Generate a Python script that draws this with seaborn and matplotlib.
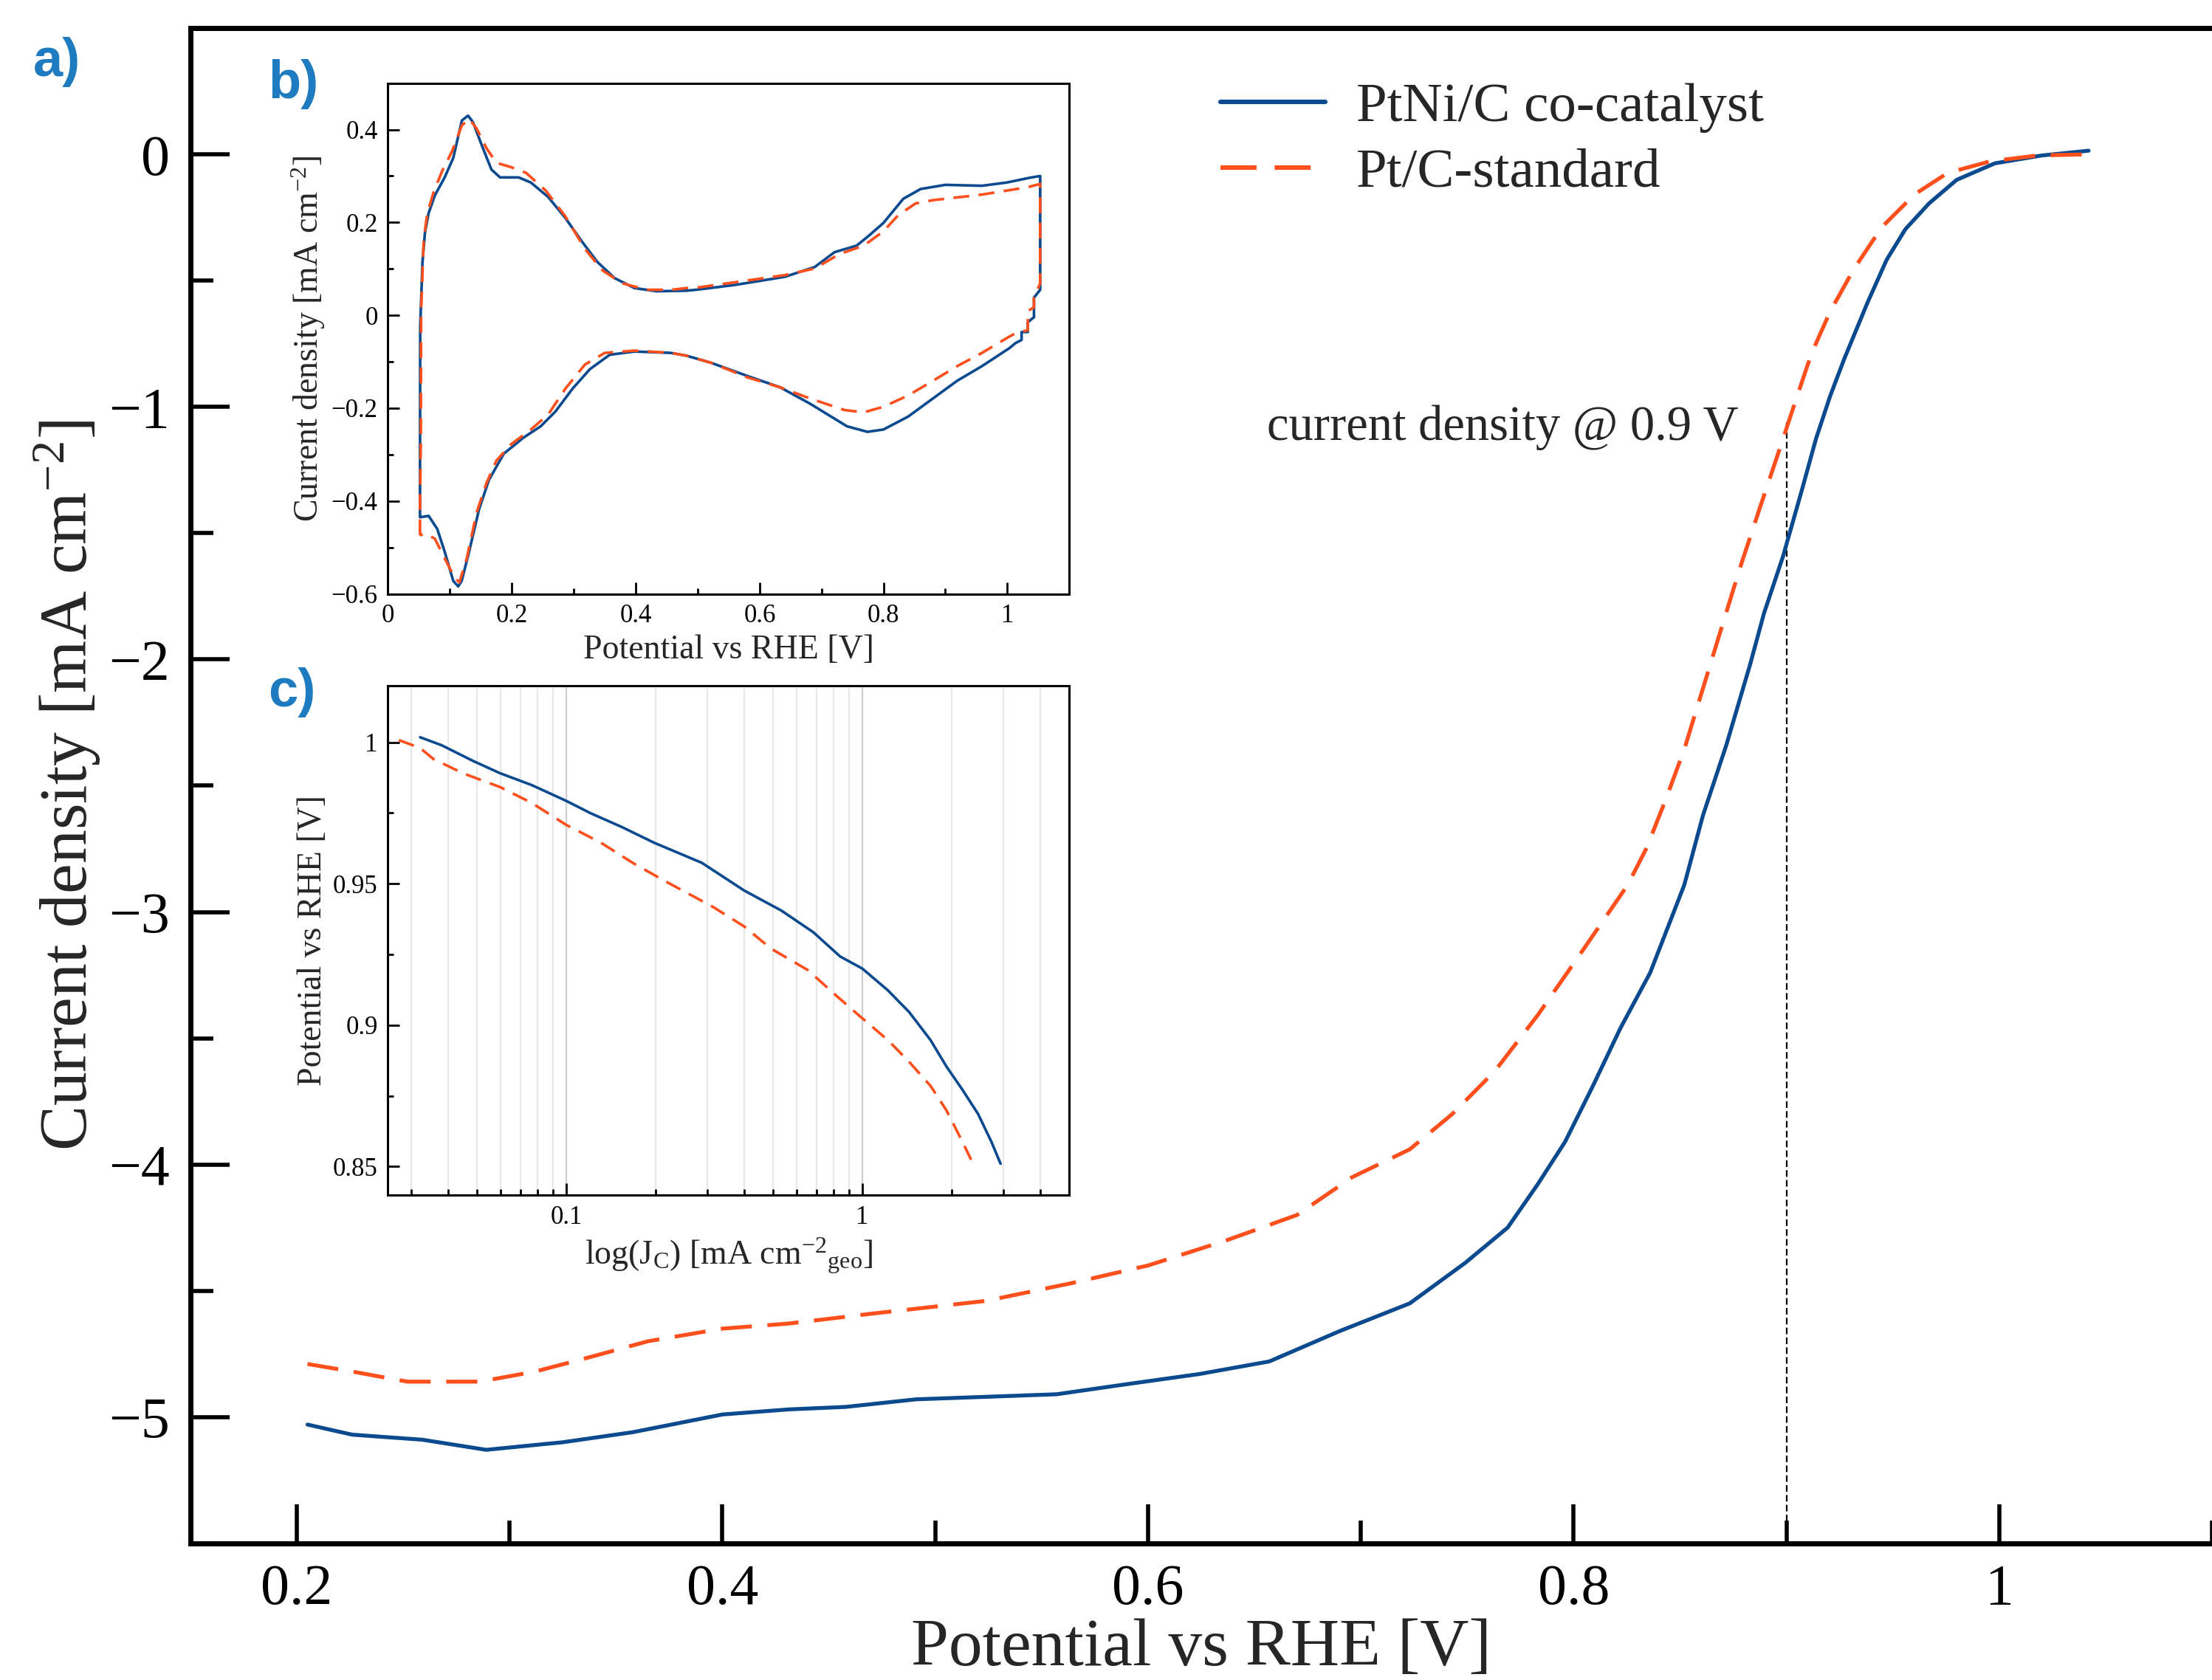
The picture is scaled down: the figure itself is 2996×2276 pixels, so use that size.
import numpy as np
import pandas as pd
import matplotlib
matplotlib.use("Agg")
import matplotlib.pyplot as plt
import seaborn as sns
from matplotlib.ticker import MultipleLocator, FuncFormatter, NullFormatter, LogLocator

# ---------------- data ----------------
series_names = ["PtNi/C co-catalyst", "Pt/C-standard"]

# main LSV (a)
lsv_E_ptni = [0.205, 0.226, 0.259, 0.289, 0.325, 0.358, 0.4, 0.431, 0.458, 0.491, 0.524, 0.557,
              0.59, 0.624, 0.657, 0.69, 0.723, 0.749, 0.769, 0.783, 0.796, 0.809, 0.822, 0.836,
              0.852, 0.8608, 0.8718, 0.8829, 0.8895, 0.8984, 0.9072, 0.9139, 0.9205, 0.9272,
              0.9382, 0.9471, 0.9559, 0.967, 0.980, 0.998, 1.020, 1.042]
lsv_j_ptni = [-5.03, -5.07, -5.09, -5.13, -5.10, -5.06, -4.99, -4.97, -4.96, -4.93, -4.92, -4.91,
              -4.87, -4.83, -4.78, -4.66, -4.55, -4.39, -4.25, -4.08, -3.91, -3.69, -3.46, -3.24,
              -2.893, -2.617, -2.338, -2.021, -1.816, -1.592, -1.331, -1.126, -0.958, -0.809,
              -0.585, -0.417, -0.296, -0.194, -0.1005, -0.035, -0.004, 0.015]
lsv_E_pt = [0.205, 0.226, 0.252, 0.286, 0.312, 0.339, 0.365, 0.4, 0.431, 0.471, 0.524, 0.564,
            0.6, 0.637, 0.67, 0.696, 0.723, 0.743, 0.763, 0.783, 0.802,
            0.8254, 0.8342, 0.843, 0.852, 0.8608, 0.8696, 0.8785, 0.8873, 0.8962, 0.9028,
            0.9117, 0.9205, 0.9316, 0.9449, 0.9604, 0.9758, 0.9958, 1.018, 1.044]
lsv_j_pt = [-4.79, -4.82, -4.86, -4.86, -4.82, -4.76, -4.70, -4.65, -4.63, -4.59, -4.54, -4.47,
            -4.40, -4.30, -4.20, -4.05, -3.94, -3.80, -3.63, -3.41, -3.18,
            -2.893, -2.748, -2.561, -2.356, -2.114, -1.872, -1.629, -1.405, -1.182, -1.014,
            -0.790, -0.623, -0.455, -0.287, -0.157, -0.073, -0.027, -0.004, 0.001]

# CV inset (b): anodic sweep followed by cathodic sweep
cv_E_ptni = [0.0517, 0.0517, 0.052, 0.0557, 0.0597, 0.0656, 0.0756, 0.0915, 0.1054, 0.1193,
             0.1293, 0.1372, 0.1512, 0.167, 0.181, 0.211, 0.2307, 0.2585, 0.2864, 0.3142,
             0.338, 0.366, 0.3978, 0.4336, 0.482, 0.501, 0.5617, 0.641, 0.689, 0.721,
             0.7566, 0.776, 0.800, 0.832, 0.860, 0.900, 0.959, 0.999, 1.039, 1.053,
             1.053, 1.043, 1.043, 1.033, 1.033, 1.023, 1.023, 1.013, 1.003, 0.959,
             0.919, 0.880, 0.840, 0.800, 0.774, 0.741, 0.681, 0.633, 0.581, 0.521,
             0.482, 0.457, 0.398, 0.358, 0.326, 0.298, 0.2705, 0.2466, 0.2188, 0.187,
             0.163, 0.147, 0.131, 0.119, 0.1134, 0.1054, 0.0915, 0.0795, 0.0656, 0.0517]
cv_j_ptni = [-0.432, -0.368, -0.025, 0.115, 0.178, 0.220, 0.258, 0.297, 0.339, 0.4195,
             0.430, 0.416, 0.367, 0.314, 0.297, 0.297, 0.286, 0.255, 0.2095, 0.157,
             0.115, 0.080, 0.0587, 0.0518, 0.053, 0.0555, 0.0657, 0.083, 0.104, 0.136,
             0.150, 0.171, 0.199, 0.251, 0.272, 0.281, 0.279, 0.286, 0.297, 0.300,
             0.055, 0.038, -0.004, -0.015, -0.036, -0.036, -0.053, -0.060, -0.071, -0.1095,
             -0.141, -0.179, -0.218, -0.246, -0.251, -0.239, -0.190, -0.155, -0.131, -0.102,
             -0.087, -0.081, -0.078, -0.085, -0.116, -0.158, -0.207, -0.239, -0.2635, -0.298,
             -0.3545, -0.418, -0.509, -0.572, -0.584, -0.572, -0.509, -0.460, -0.432, -0.435]
cv_E_pt = [0.0517, 0.0517, 0.053, 0.0535, 0.0577, 0.0636, 0.0736, 0.0875, 0.1034, 0.1193,
           0.1313, 0.1432, 0.159, 0.175, 0.199, 0.2228, 0.2545, 0.2864, 0.318, 0.346,
           0.378, 0.418, 0.457, 0.482, 0.501, 0.5617, 0.641, 0.689, 0.729, 0.768,
           0.800, 0.824, 0.852, 0.880, 0.959, 1.033, 1.053,
           1.053, 1.043, 1.043, 1.033, 1.033, 1.013, 1.003, 0.959, 0.919, 0.880,
           0.840, 0.800, 0.768, 0.737, 0.681, 0.633, 0.581, 0.521, 0.482, 0.457,
           0.398, 0.350, 0.318, 0.2864, 0.2585, 0.2307, 0.199, 0.175, 0.159, 0.1432,
           0.1273, 0.1154, 0.1074, 0.0915, 0.0756, 0.0597, 0.0517]
cv_j_pt = [-0.474, -0.411, -0.270, 0.0097, 0.164, 0.220, 0.265, 0.311, 0.353, 0.409,
           0.423, 0.402, 0.360, 0.3285, 0.319, 0.307, 0.269, 0.213, 0.143, 0.097,
           0.069, 0.055, 0.055, 0.0587, 0.060, 0.0714, 0.0867, 0.1008, 0.132, 0.150,
           0.181, 0.216, 0.241, 0.248, 0.260, 0.276, 0.283,
           0.069, 0.038, 0.017, 0.0095, -0.032, -0.039, -0.046, -0.081, -0.1095, -0.141,
           -0.1725, -0.197, -0.209, -0.204, -0.179, -0.155, -0.134, -0.102, -0.087, -0.081,
           -0.076, -0.081, -0.106, -0.158, -0.214, -0.246, -0.2775, -0.313, -0.3615, -0.4245,
           -0.523, -0.575, -0.565, -0.523, -0.481, -0.470, -0.474]

# Tafel inset (c)
tafel_J_ptni = [0.0321, 0.0379, 0.0485, 0.0597, 0.0764, 0.1, 0.1205, 0.1545, 0.198, 0.287, 0.399,
                0.533, 0.684, 0.841, 1.0, 1.22, 1.44, 1.70, 1.92, 2.18, 2.46, 2.73, 2.93]
tafel_E_ptni = [1.0018, 0.999, 0.9934, 0.9891, 0.9849, 0.9793, 0.975, 0.970, 0.9645, 0.9574,
                0.9476, 0.9405, 0.9328, 0.9243, 0.920, 0.9123, 0.9046, 0.8947, 0.8855, 0.8771,
                0.8686, 0.8587, 0.851]
tafel_J_pt = [0.0272, 0.0321, 0.0356, 0.0447, 0.0597, 0.0764, 0.1, 0.131, 0.1676, 0.215, 0.312,
              0.399, 0.491, 0.656, 0.807, 1.0, 1.22, 1.44, 1.70, 1.92, 2.18, 2.33]
tafel_E_pt = [1.0008, 0.998, 0.9941, 0.9891, 0.9842, 0.9786, 0.9708, 0.9645, 0.9574, 0.951,
              0.9419, 0.9349, 0.9271, 0.9194, 0.9109, 0.9024, 0.8947, 0.887, 0.8785, 0.870,
              0.8587, 0.8524]

annot_text = "current density @ 0.9 V"
vline_E = 0.9
vline_top = -1.06

# ---------------- style ----------------
BLUE = "#0b4a8e"
ORANGE = "#ff4f1c"
LABEL_BLUE = "#1f7bbf"

sns.set_theme(style="ticks")
plt.rcParams["font.family"] = ["Liberation Serif", "DejaVu Serif"]
plt.rcParams["mathtext.fontset"] = "custom"
plt.rcParams["mathtext.rm"] = "Liberation Serif"
plt.rcParams["mathtext.it"] = "Liberation Serif:italic"
plt.rcParams["mathtext.bf"] = "Liberation Serif:bold"
plt.rcParams["axes.unicode_minus"] = True


def gfmt(v, pos):
    s = "%g" % v
    return s.replace("-", "\u2212")


fig = plt.figure(figsize=(14.98, 11.38), dpi=200)
fig.patch.set_facecolor("white")

# ---------------- main axes ----------------
ax = fig.add_axes([0.0861, 0.0814, 1 - 0.0861, 0.9018])
df_a1 = pd.DataFrame({"E": lsv_E_ptni, "j": lsv_j_ptni})
df_a2 = pd.DataFrame({"E": lsv_E_pt, "j": lsv_j_pt})
sns.lineplot(data=df_a1, x="E", y="j", ax=ax, color=BLUE, lw=1.9, sort=False,
             estimator=None, label=series_names[0])
sns.lineplot(data=df_a2, x="E", y="j", ax=ax, color=ORANGE, lw=1.9, sort=False,
             estimator=None, label=series_names[1], linestyle=(0, (8, 4)))
ax.plot([vline_E, vline_E], [vline_top, -5.5], color="black", lw=0.8,
        linestyle=(0, (4, 2)), zorder=1)
ax.text(0.8774, -1.13, annot_text, ha="right", va="baseline", fontsize=24)

ax.set_xlim(0.15, 1.1)
ax.set_ylim(-5.5, 0.5)
ax.xaxis.set_major_locator(MultipleLocator(0.2))
ax.xaxis.set_minor_locator(MultipleLocator(0.1))
ax.yaxis.set_major_locator(MultipleLocator(1))
ax.yaxis.set_minor_locator(MultipleLocator(0.5))
ax.xaxis.set_major_formatter(FuncFormatter(gfmt))
ax.yaxis.set_major_formatter(FuncFormatter(gfmt))
ax.tick_params(which="both", direction="in", top=False, right=False, colors="black")
ax.tick_params(which="major", length=19, width=2.0, labelsize=28, pad=10)
ax.tick_params(which="minor", length=11, width=2.0)
for s in ["left", "bottom", "top"]:
    ax.spines[s].set_linewidth(2.5)
    ax.spines[s].set_color("black")
ax.spines["right"].set_visible(False)
ax.set_xlabel("Potential vs RHE [V]", fontsize=33, labelpad=1)
ax.set_ylabel(r"Current density [mA cm$^{-2}$]", fontsize=33, labelpad=3)

leg = ax.legend(loc="upper left", bbox_to_anchor=(0.5517, 0.951),
                bbox_transform=fig.transFigure, frameon=False, fontsize=27,
                handlelength=1.9, handletextpad=0.55, labelspacing=0.27,
                borderpad=0, borderaxespad=0)
for line in leg.get_lines():
    line.set_linewidth(2.2)

# ---------------- inset b ----------------
axb = fig.add_axes([0.1754, 0.6465, 0.308, 0.304])
axb.set_facecolor("white")
df_b1 = pd.DataFrame({"E": cv_E_ptni, "j": cv_j_ptni})
df_b2 = pd.DataFrame({"E": cv_E_pt, "j": cv_j_pt})
sns.lineplot(data=df_b1, x="E", y="j", ax=axb, color=BLUE, lw=1.3, sort=False, estimator=None)
sns.lineplot(data=df_b2, x="E", y="j", ax=axb, color=ORANGE, lw=1.3, sort=False,
             estimator=None, linestyle=(0, (6, 3.5)))
axb.set_xlim(0, 1.1)
axb.set_ylim(-0.6, 0.5)
axb.xaxis.set_major_locator(MultipleLocator(0.2))
axb.xaxis.set_minor_locator(MultipleLocator(0.1))
axb.yaxis.set_major_locator(MultipleLocator(0.2))
axb.yaxis.set_minor_locator(MultipleLocator(0.1))
axb.xaxis.set_major_formatter(FuncFormatter(gfmt))
axb.yaxis.set_major_formatter(FuncFormatter(gfmt))
axb.tick_params(which="both", direction="in", top=False, right=False, colors="black")
axb.tick_params(which="major", length=5.8, width=1.0, labelsize=12.5, pad=5)
axb.tick_params(which="minor", length=3, width=1.0)
for s in axb.spines.values():
    s.set_linewidth(1.1)
    s.set_color("black")
axb.set_xlabel("Potential vs RHE [V]", fontsize=16.5, labelpad=3)
axb.set_ylabel(r"Current density [mA cm$^{-2}$]", fontsize=16.5, labelpad=2)

# ---------------- inset c ----------------
axc = fig.add_axes([0.1754, 0.2888, 0.308, 0.303])
axc.set_facecolor("white")
df_c1 = pd.DataFrame({"J": tafel_J_ptni, "E": tafel_E_ptni})
df_c2 = pd.DataFrame({"J": tafel_J_pt, "E": tafel_E_pt})
sns.lineplot(data=df_c1, x="J", y="E", ax=axc, color=BLUE, lw=1.3, sort=False,
             estimator=None, zorder=3)
sns.lineplot(data=df_c2, x="J", y="E", ax=axc, color=ORANGE, lw=1.3, sort=False,
             estimator=None, linestyle=(0, (6, 3.5)), zorder=3)
axc.set_xscale("log")
axc.set_xlim(0.025, 5)
axc.set_ylim(0.84, 1.02)
axc.xaxis.set_major_locator(LogLocator(base=10, numticks=10))
axc.xaxis.set_minor_locator(LogLocator(base=10, subs=np.arange(2, 10), numticks=20))
axc.xaxis.set_major_formatter(FuncFormatter(gfmt))
axc.xaxis.set_minor_formatter(NullFormatter())
axc.yaxis.set_major_locator(MultipleLocator(0.05))
axc.yaxis.set_minor_locator(MultipleLocator(0.025))
axc.yaxis.set_major_formatter(FuncFormatter(gfmt))
axc.grid(which="major", axis="x", color="#cfcfcf", lw=0.8, zorder=0)
axc.grid(which="minor", axis="x", color="#e8e8e8", lw=0.8, zorder=0)
axc.set_axisbelow(True)
axc.tick_params(which="both", direction="in", top=False, right=False, colors="black")
axc.tick_params(which="major", length=5.8, width=1.0, labelsize=12.5, pad=5)
axc.tick_params(which="minor", length=3, width=1.0)
for s in axc.spines.values():
    s.set_linewidth(1.1)
    s.set_color("black")
axc.set_xlabel(r"log(J$_\mathrm{C}$) [mA cm$^{-2}$$_\mathrm{geo}$]", fontsize=16.5, labelpad=3)
axc.set_ylabel("Potential vs RHE [V]", fontsize=16.5, labelpad=2)

# ---------------- panel labels ----------------
for txt, x, y in [("a)", 0.015, 0.978), ("b)", 0.1212, 0.965), ("c)", 0.1212, 0.603)]:
    fig.text(x, y, txt, ha="left", va="top", fontsize=26, fontweight="bold",
             color=LABEL_BLUE, family=["Liberation Sans", "DejaVu Sans"])

fig.savefig("out.png", dpi=200, facecolor="white")
